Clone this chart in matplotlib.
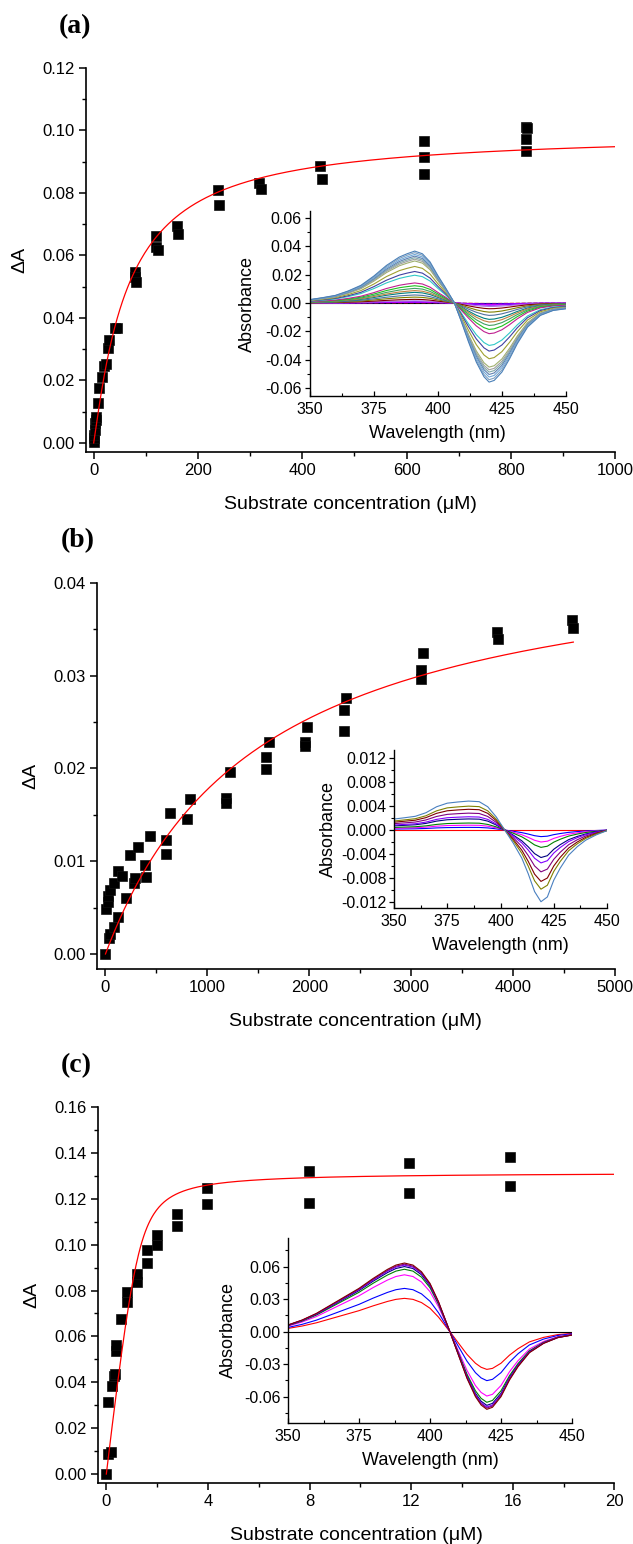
import numpy as np
import matplotlib
matplotlib.use("Agg")
import matplotlib.pyplot as plt
from matplotlib.ticker import MultipleLocator, FormatStrFormatter

plt.rcParams['font.family'] = ['Liberation Sans', 'DejaVu Sans']
plt.rcParams['axes.unicode_minus'] = False
plt.rcParams['mathtext.default'] = 'regular'

# ---------------- data: panel (a) ----------------
xa = [0, 0.5, 1, 2, 3, 4, 5, 7.5, 11, 15, 19, 24, 27, 30, 40, 44, 79, 80, 82,
      119, 120, 123, 159, 162, 239, 241, 317, 320, 435, 437, 633, 633, 634,
      830, 831, 830, 830]
ya = [0.0004, 0.0015, 0.0026, 0.0042, 0.0063, 0.0075, 0.0084, 0.0127, 0.0175,
      0.0211, 0.0245, 0.0252, 0.0304, 0.0330, 0.0368, 0.0368, 0.0547, 0.0530,
      0.0516, 0.0663, 0.0628, 0.0618, 0.0695, 0.0669, 0.0808, 0.0760, 0.0831,
      0.0814, 0.0885, 0.0846, 0.0965, 0.0915, 0.0862, 0.1010, 0.1008, 0.0972,
      0.0935]
fit_a = dict(Bmax=0.0995, K=65.0, n=1.1, xmax=1000)

# ---------------- data: panel (b) ----------------
xb = [0, 8, 20, 28, 40, 80, 32, 48, 80, 120, 123, 159, 199, 239, 279, 287, 318,
      390, 398, 438, 597, 597, 637, 796, 828, 1182, 1182, 1218, 1572, 1572,
      1600, 1959, 1959, 1982, 2341, 2341, 2361, 3097, 3097, 3117, 3841, 3853,
      4578, 4586]
yb = [0.0000, 0.0049, 0.0056, 0.0062, 0.0069, 0.0076, 0.0017, 0.0022, 0.0029,
      0.0040, 0.0089, 0.0084, 0.0060, 0.0107, 0.0076, 0.0082, 0.0115, 0.0096,
      0.0083, 0.0127, 0.0123, 0.0108, 0.0152, 0.0146, 0.0167, 0.0168, 0.0163,
      0.0196, 0.0212, 0.0199, 0.0229, 0.0229, 0.0224, 0.0245, 0.0263, 0.0240,
      0.0276, 0.0296, 0.0306, 0.0325, 0.0347, 0.0340, 0.0360, 0.0351]
fit_b = dict(Bmax=0.0448, K=1525.0, n=1.0, xmax=4590)

# ---------------- data: panel (c) ----------------
xc = [0, 0.06, 0.19, 0.06, 0.21, 0.30, 0.34, 0.38, 0.40, 0.59, 0.80, 0.80,
      1.20, 1.20, 1.60, 1.60, 2.0, 2.0, 2.78, 2.78, 3.98, 3.98, 7.96, 7.96,
      11.9, 11.9, 15.9, 15.9]
yc = [0.0000, 0.0087, 0.0097, 0.0312, 0.0385, 0.0428, 0.0438, 0.0536, 0.0562,
      0.0675, 0.0751, 0.0794, 0.0835, 0.0870, 0.0921, 0.0976, 0.1000, 0.1041,
      0.1080, 0.1135, 0.1179, 0.1249, 0.1182, 0.1320, 0.1227, 0.1356, 0.1254,
      0.1382]
fit_c = dict(Bmax=0.1315, E=1.3, K=0.12, xmax=20)

# ---------------- inset spectra ----------------
wl_a = [350, 355, 360, 365, 370, 375, 380, 385, 388, 391, 394, 397, 400, 403,
        406.5, 409, 412, 415, 418, 420, 422, 425, 428, 431, 435, 440, 445, 450]
shape_a = [2.4, 3.8, 5.4, 8.5, 12.5, 19.0, 26.6, 32.5, 34.8, 36.7, 34.8, 29.0,
           19.5, 10.8, 0.0, -12.2, -27.5, -41.6, -52.0, -55.8, -54.6, -48.7,
           -39.3, -28.7, -17.0, -8.7, -5.2, -4.0]
amps_a = [0, 0.3, 0.6, 1.0, 1.5, 2.4, 4.0, 6.4, 8.7, 11.5, 13.4, 15.8, 18.6,
          21.6, 29.9, 33.9, 39.3, 45.2, 47.1, 48.7, 50.4, 52.2, 54.1, 55.8]
colors_a = ['#000000', '#FF0000', '#0000FF', '#FF00FF', '#8000FF', '#B070E0',
            '#800000', '#808000', '#5070A0', '#008080', '#C08040', '#40A060',
            '#20C020', '#C02090', '#30C8C8', '#4040A0', '#A0A030', '#A0B070',
            '#A0A0A0', '#80A8A8', '#6080B0', '#70A8D8', '#80A0C0', '#4A80B8']

wl_b = [350, 355, 360, 365, 370, 375, 380, 385, 390, 394, 398, 402, 406, 410,
        413, 416, 419, 422, 425, 428, 432, 436, 440, 445, 450]
shape_b = [1.84, 2.06, 2.3, 2.9, 3.9, 4.5, 4.7, 4.85, 4.75, 3.9, 2.2, 0.0,
           -2.2, -4.7, -7.3, -10.3, -12.0, -11.2, -8.4, -6.4, -4.2, -2.8,
           -1.7, -0.8, -0.1]
amps_b = [0.0, 1.1, 2.0, 2.9, 4.6, 5.5, 7.0, 8.6, 9.9, 12.0]
colors_b = ['#FF0000', '#0000FF', '#FF00FF', '#008000', '#000080', '#8000FF',
            '#800080', '#800000', '#808000', '#4A80C0']

wl_c = [350, 355, 360, 365, 370, 375, 380, 385, 388, 391, 394, 397, 400, 403,
        407, 410, 413, 416, 418, 420, 422, 425, 428, 431, 435, 440, 445, 450]
shape_c = [6.2, 10.8, 16.9, 24.6, 32.3, 40.0, 49.2, 57.5, 61.5, 63.4, 61.5,
           55.4, 44.6, 27.7, 0.0, -21.5, -43.0, -60.0, -67.7, -71.7, -69.8,
           -60.0, -44.6, -32.3, -19.4, -10.8, -5.5, -3.1]
amps_c = [0.0, 34.8, 45.2, 59.4, 65.2, 68.0, 69.5, 70.5, 71.7]
colors_c = ['#000000', '#FF0000', '#0000FF', '#FF00FF', '#008000', '#000080',
            '#8000FF', '#800080', '#800000']

# ---------------- figure ----------------
W, H = 633, 1544
fig = plt.figure(figsize=(W / 100, H / 100), dpi=100)


def ax_px(l, t, r, b):
    return fig.add_axes([l / W, 1 - b / H, (r - l) / W, (b - t) / H])


def style_main(ax):
    for s in ('top', 'right'):
        ax.spines[s].set_visible(False)
    for s in ('left', 'bottom'):
        ax.spines[s].set_linewidth(1.2)
    ax.tick_params(which='major', direction='out', length=5, width=1.1,
                   labelsize=12, pad=3)
    ax.tick_params(which='minor', direction='out', length=3, width=1.0)


def style_inset(ax, ypad):
    for s in ('top', 'right'):
        ax.spines[s].set_visible(False)
    for s in ('left', 'bottom'):
        ax.spines[s].set_linewidth(1.0)
    ax.tick_params(axis='y', which='major', direction='out', length=3.5,
                   width=0.9, labelsize=11.5, pad=2)
    ax.tick_params(axis='y', which='minor', direction='out', length=2, width=0.8)
    ax.tick_params(axis='x', which='major', direction='in', length=3.5,
                   width=0.9, labelsize=11.5, pad=4)
    ax.tick_params(axis='x', which='minor', direction='in', length=2, width=0.8)
    ax.set_xlim(350, 450)
    ax.xaxis.set_major_locator(MultipleLocator(25))
    ax.xaxis.set_minor_locator(MultipleLocator(12.5))
    ax.set_xlabel('Wavelength (nm)', fontsize=13, labelpad=6)
    ax.set_ylabel('Absorbance', fontsize=13, labelpad=ypad)
    ax.patch.set_alpha(0)


def hill(x, p):
    x = np.asarray(x, float)
    return p['Bmax'] * x ** p['n'] / (p['K'] ** p['n'] + x ** p['n'])


def tight(x, p):
    x = np.asarray(x, float)
    s = p['E'] + x + p['K']
    return p['Bmax'] * (s - np.sqrt(s * s - 4 * p['E'] * x)) / (2 * p['E'])


def main_panel(ax, x, y, fx, fy, xlim, ylim, xmaj, xmin, ymaj, ymin):
    ax.plot(x, y, 's', color='black', ms=6.5, mec='#111111', mew=0.5, zorder=2)
    ax.plot(fx, fy, '-', color='red', lw=0.9, zorder=3)
    ax.set_xlim(*xlim)
    ax.set_ylim(*ylim)
    ax.xaxis.set_major_locator(MultipleLocator(xmaj))
    ax.xaxis.set_minor_locator(MultipleLocator(xmin))
    ax.yaxis.set_major_locator(MultipleLocator(ymaj))
    ax.yaxis.set_minor_locator(MultipleLocator(ymin))
    ax.yaxis.set_major_formatter(FormatStrFormatter('%.2f'))
    ax.set_xlabel('Substrate concentration (\u03bcM)', fontsize=14, labelpad=13)
    ax.set_ylabel('\u0394A', fontsize=14, labelpad=10)
    style_main(ax)


# ----- panel (a)
axa = ax_px(85.6, 68, 615.1, 452)
fxa = np.linspace(0, fit_a['xmax'], 400)
main_panel(axa, xa, ya, fxa, hill(fxa, fit_a), (-15.5, 1000), (-0.0029, 0.12),
           200, 100, 0.02, 0.01)

ina = ax_px(309.6, 211, 566, 396)
sa = np.array(shape_a)
for amp, col in zip(amps_a, colors_a):
    ls = '--' if col == '#FF0000' else '-'
    ina.plot(wl_a, sa * amp / 55.8 / 1000, color=col, lw=0.8, ls=ls)
ina.set_ylim(-0.0656, 0.065)
ina.yaxis.set_major_locator(MultipleLocator(0.02))
ina.yaxis.set_minor_locator(MultipleLocator(0.01))
ina.yaxis.set_major_formatter(FormatStrFormatter('%.2f'))
style_inset(ina, 7)

# ----- panel (b)
axb = ax_px(96.6, 583, 615.1, 969)
fxb = np.linspace(0, fit_b['xmax'], 400)
main_panel(axb, xb, yb, fxb, hill(fxb, fit_b), (-87, 5000), (-0.00162, 0.04),
           1000, 500, 0.01, 0.005)

inb = ax_px(394, 750, 607, 908)
sb = np.array(shape_b)
for amp, col in zip(amps_b, colors_b):
    inb.plot(wl_b, sb * amp / 12.0 / 1000, color=col, lw=0.8)
inb.set_ylim(-0.01305, 0.0134)
inb.yaxis.set_major_locator(MultipleLocator(0.004))
inb.yaxis.set_minor_locator(MultipleLocator(0.002))
inb.yaxis.set_major_formatter(FormatStrFormatter('%.3f'))
style_inset(inb, 3)

# ----- panel (c)
axc = ax_px(98.2, 1107, 614.3, 1483)
fxc = np.linspace(0, fit_c['xmax'], 600)
main_panel(axc, xc, yc, fxc, tight(fxc, fit_c), (-0.32, 20), (-0.0039, 0.16),
           4, 2, 0.02, 0.01)

inc = ax_px(288, 1238, 572, 1423)
sc = np.array(shape_c)
for amp, col in zip(amps_c, colors_c):
    inc.plot(wl_c, sc * amp / 71.7 / 1000, color=col, lw=0.8)
inc.set_ylim(-0.0843, 0.0865)
inc.yaxis.set_major_locator(MultipleLocator(0.03))
inc.yaxis.set_minor_locator(MultipleLocator(0.015))
inc.yaxis.set_major_formatter(FormatStrFormatter('%.2f'))
style_inset(inc, 5)

# ----- panel letters
for lab, (px, py) in zip(['(a)', '(b)', '(c)'], [(75, 27), (78, 541), (76, 1066)]):
    fig.text(px / W, 1 - py / H, lab, family=['Liberation Serif', 'DejaVu Serif'],
             weight='bold', fontsize=20, ha='center', va='center')

fig.savefig('out.png', dpi=100)
